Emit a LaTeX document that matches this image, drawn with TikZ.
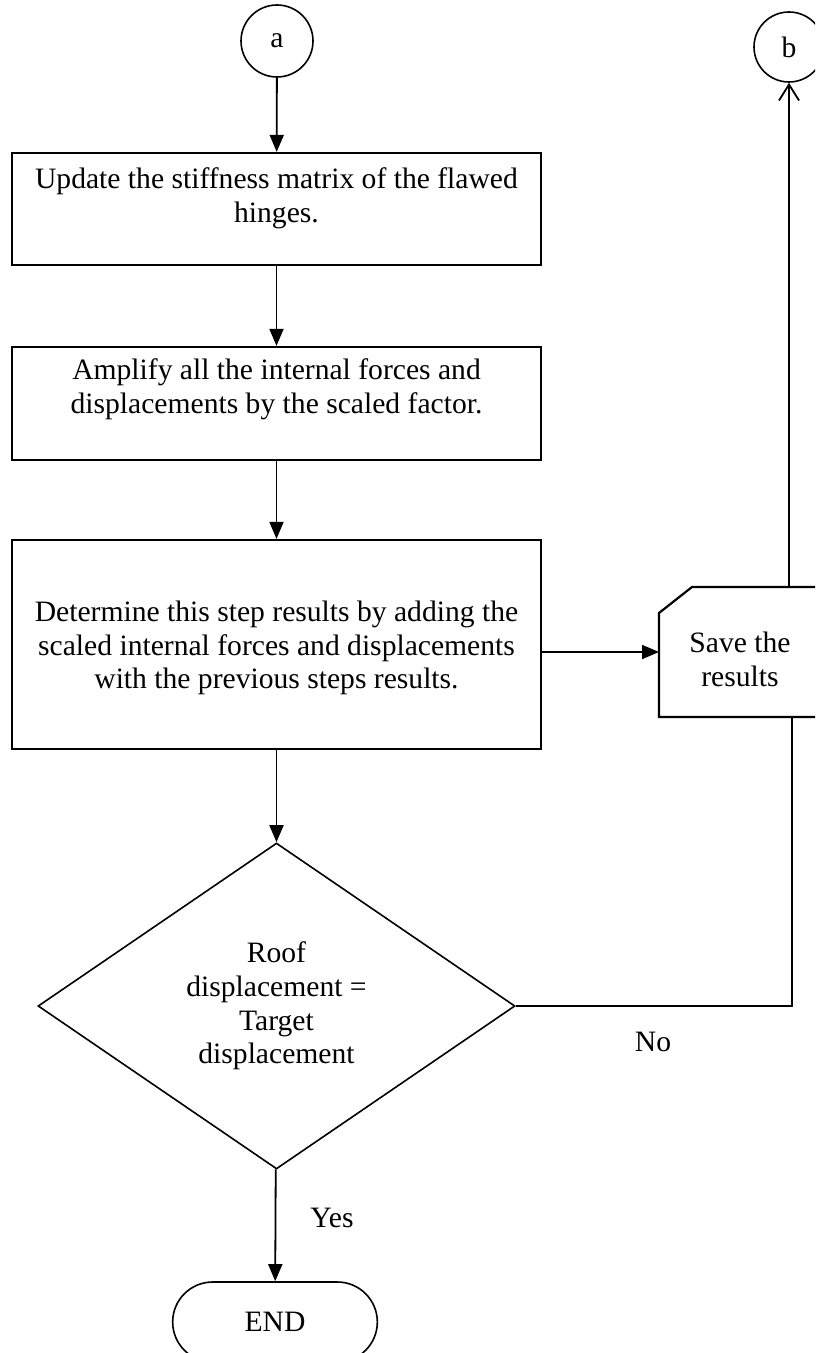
\documentclass[tikz,border=0pt]{standalone}
\usepackage{fontspec}
\setmainfont{Liberation Serif}
\usetikzlibrary{arrows.meta,shapes.geometric,shapes.misc}

\begin{document}
\begin{tikzpicture}[x=0.5pt,y=-0.5pt,
    every node/.style={font=\fontsize{14.8}{16.8}\selectfont},
    procbox/.style={draw,line width=1.1pt,rectangle,minimum width=264.5pt,inner sep=0pt},
    boxtext/.style={align=center,inner sep=0pt},
    connector/.style={draw,line width=0.9pt,-{Triangle[length=8.5pt,width=7pt]}},
    openconnector/.style={draw,line width=0.9pt,-{Straight Barb[length=8pt,width=10pt]}},
    plainline/.style={draw,line width=0.9pt}]

       \clip (0,0) rectangle (815,1353);

       %connector circles
       \node[draw,circle,line width=0.8pt,minimum size=36pt,inner sep=0pt] (cona) at (277,41) {a};
       \node[draw,circle,line width=0.8pt,minimum size=35pt,inner sep=0pt] (conb) at (789,47) {b};

       %process boxes
       \node[procbox,minimum height=56pt] (update) at (276.5,209) {};
       \node[boxtext] (updatetext) at (276.5,198) {Update the stiffness matrix of the flawed\\hinges.};

       \node[procbox,minimum height=56.5pt] (amplify) at (276.5,403.5) {};
       \node[boxtext] (amplifytext) at (276.5,389) {Amplify all the internal forces and\\displacements by the scaled factor.};

       \node[procbox,minimum height=104.5pt] (determine) at (276.5,644.5) {};
       \node[boxtext] (determinetext) at (276.5,648) {Determine this step results by adding the\\scaled internal forces and displacements\\with the previous steps results.};

       %storage box with cut corner
       \draw[line width=1.1pt] (659,613) -- (692,587) -- (821,587) -- (821,717) -- (659,717) -- cycle;
       \node[boxtext] (save) at (740,659.5) {Save the\\results};
       \coordinate (saveW) at (659,652);
       \coordinate (saveN) at (789,587);
       \coordinate (saveS) at (792,717);

       %decision
       \node[draw,diamond,line width=0.8pt,minimum width=238.5pt,minimum height=163pt,inner sep=0pt,align=center] (check) at (276.5,1006) {Roof\\displacement =\\Target\\displacement};

       %end terminal
       \node[draw,rounded rectangle,line width=0.8pt,minimum width=109pt,minimum height=40pt] (finish) at (275,1322) {END};

       %connectors
       \draw[connector] (cona) -- (update);
       \draw[connector] (update) -- (amplify);
       \draw[connector] (amplify) -- (determine);
       \draw[connector] (saveW -| determine.east) -- (saveW);
       \draw[openconnector] (saveN) -- (conb);
       \draw[connector] (determine) -- (check);
       \draw[plainline] (check.east) -| (saveS);
       \draw[connector] (check) -- (finish);

       %branch labels
       \node (no) at (653,1042) {No};
       \node (yes) at (332,1218) {Yes};

\end{tikzpicture}
\end{document}
